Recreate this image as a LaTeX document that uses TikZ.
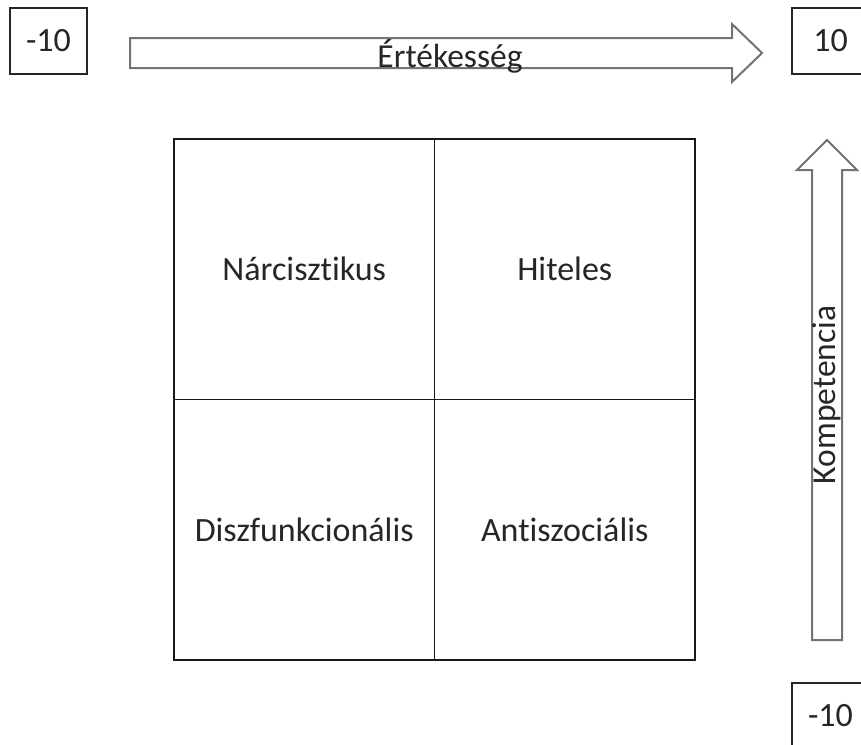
\documentclass[tikz,border=0pt]{standalone}
\usepackage{fontspec}
\setmainfont{Carlito}[Ligatures={NoCommon}]
\begin{document}
\begin{tikzpicture}[x=1pt,y=-1pt,
  lbl/.style={font=\fontsize{33.5}{40}\selectfont, text=black!85, inner sep=0pt},
  numbox/.style={draw=black!85, line width=1.3pt, minimum width=77pt, minimum height=66pt, inner sep=0pt, font=\fontsize{34}{40}\selectfont, text=black!85},
  cell/.style={draw=black!90, line width=1.6pt, minimum width=260.5pt, minimum height=260.5pt, inner sep=0pt, font=\fontsize{34}{40}\selectfont, text=black!85},
  bigarrow/.style={draw=black!55, line width=2pt, fill=white, line join=miter}
]
\useasboundingbox (0,0) rectangle (861,744);
\fill[white] (0,0) rectangle (861,744);
% number boxes
\node[numbox] (lneg) at (48.5,41) {-10};
\node[numbox] (rpos) at (830.5,41) {10};
\node[numbox] (bneg) at (830.5,716) {-10};
% horizontal arrow
\draw[bigarrow] (130,38) -- (732,38) -- (732,24) -- (762,53) -- (732,82) -- (732,68) -- (130,68) -- cycle;
\node[lbl, anchor=base] (ert) at (450,67) {Értékesség};
% vertical arrow
\draw[bigarrow] (812,640) -- (812,170) -- (797,170) -- (827,140) -- (857,170) -- (842,170) -- (842,640) -- cycle;
\node[lbl, rotate=90, anchor=base] (komp) at (835,395) {Kompetencia};
% grid
\node[cell] (nw) at (304.25,269.25) {Nárcisztikus};
\node[cell] (ne) at (564.75,269.25) {Hiteles};
\node[cell] (sw) at (304.25,529.75) {Diszfunkcionális};
\node[cell] (se) at (564.75,529.75) {Antiszociális};
\end{tikzpicture}
\end{document}
